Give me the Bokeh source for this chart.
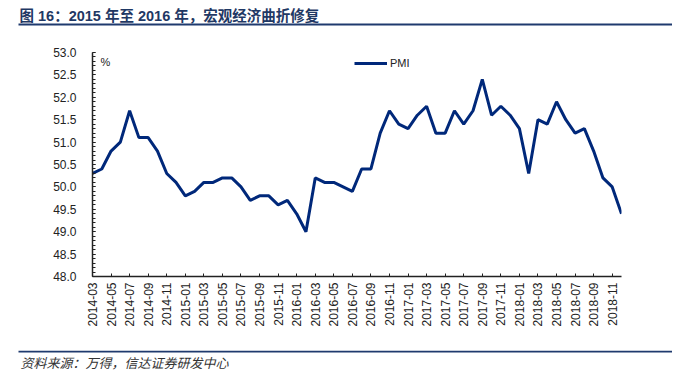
import math
import pandas as pd
from bokeh.plotting import figure
from bokeh.models import (ColumnDataSource, FixedTicker, SingleIntervalTicker, Range1d,
                          Legend, LegendItem, Label, NumeralTickFormatter)
from bokeh.core.properties import value
from bokeh.layouts import column
from bokeh.embed import file_html
from bokeh.resources import INLINE

title_text = "图 16：2015 年至 2016 年，宏观经济曲折修复"
source_text = "资料来源：万得，信达证券研发中心"
series_name = "PMI"
unit_text = "%"

months = [p.strftime("%Y-%m") for p in pd.period_range("2014-03", "2018-12", freq="M")]
pmi = [50.3, 50.4, 50.8, 51.0, 51.7, 51.1, 51.1, 50.8, 50.3, 50.1,
       49.8, 49.9, 50.1, 50.1, 50.2, 50.2, 50.0, 49.7, 49.8, 49.8, 49.6, 49.7,
       49.4, 49.0, 50.2, 50.1, 50.1, 50.0, 49.9, 50.4, 50.4, 51.2, 51.7, 51.4,
       51.3, 51.6, 51.8, 51.2, 51.2, 51.7, 51.4, 51.7, 52.4, 51.6, 51.8, 51.6,
       51.3, 50.3, 51.5, 51.4, 51.9, 51.5, 51.2, 51.3, 50.8, 50.2, 50.0, 49.4]
tick_labels = months[::2]

NAVY = "#00287A"
RULE = "#1F3A6E"
TXT = "#222222"
FONT = "Liberation Sans"
CJK = '"Liberation Sans", "Noto Sans CJK SC", sans-serif'
W = 672


def strip(h):
    s = figure(width=W, height=h, output_backend="svg", toolbar_location=None,
               x_range=Range1d(0, W), y_range=Range1d(h, 0),
               x_axis_location=None, y_axis_location=None, frame_align=False,
               min_border=0, min_border_left=0, min_border_right=0,
               min_border_top=0, min_border_bottom=0,
               outline_line_color=None, background_fill_color="white",
               border_fill_color="white")
    s.grid.visible = False
    return s


# title strip (layout decoration, pixel coordinates)
t = strip(26)
t.text(x=[19], y=[15], text=[title_text], text_font=value(CJK), text_font_size="14.5px",
       text_font_style="bold", text_color="#1F3864", text_baseline="middle", text_align="left")
t.segment(x0=[18], y0=[24], x1=[W], y1=[24], line_color=RULE, line_width=2)

# main chart
idx = list(range(len(months)))
src = ColumnDataSource(dict(x=idx, y=pmi, m=months))

p = figure(width=W, height=324, output_backend="svg", toolbar_location=None, frame_align=False,
           x_range=Range1d(0, len(months) - 1), y_range=Range1d(48, 53),
           min_border_left=92, min_border_right=W - 621, min_border_top=26, min_border_bottom=74,
           background_fill_color="white", border_fill_color="white", outline_line_color=None)
p.grid.grid_line_color = None

r = p.line("x", "y", source=src, line_color=NAVY, line_width=3)

xa = p.xaxis[0]
xa.ticker = FixedTicker(ticks=idx[::2])
xa.major_label_overrides = {i: lab for i, lab in zip(idx[::2], tick_labels)}
xa.major_label_orientation = math.pi / 2
xa.major_label_text_font = FONT
xa.major_label_text_font_size = "12px"
xa.major_label_text_color = TXT
xa.major_label_standoff = 6
xa.major_tick_in = 3
xa.major_tick_out = 0
xa.minor_tick_in = 0
xa.minor_tick_out = 0
xa.axis_line_color = "#222222"
xa.axis_line_width = 1.5
xa.major_tick_line_color = "#222222"

ya = p.yaxis[0]
ya.ticker = SingleIntervalTicker(interval=0.5, num_minor_ticks=5)
ya.formatter = NumeralTickFormatter(format="0.0")
ya.major_label_text_font = FONT
ya.major_label_text_font_size = "12px"
ya.major_label_text_color = TXT
ya.major_label_standoff = 16
ya.major_tick_in = 3
ya.major_tick_out = 0
ya.minor_tick_in = 3
ya.minor_tick_out = 0
ya.axis_line_color = "#222222"
ya.axis_line_width = 1.5
ya.major_tick_line_color = "#222222"
ya.minor_tick_line_color = "#222222"

p.add_layout(Label(x=0.85, y=52.66, text=unit_text, text_font=FONT, text_font_size="11px",
                   text_color=TXT, text_baseline="bottom"))

legend = Legend(items=[LegendItem(label=series_name, renderers=[r])],
                location=(262, 207), padding=0, margin=0, border_line_color=None,
                background_fill_alpha=0, glyph_width=33, glyph_height=12, label_height=12,
                label_standoff=3, label_text_font=FONT, label_text_font_size="11px",
                label_text_color=TXT)
p.add_layout(legend, "center")

# footer strip
f = strip(26)
f.segment(x0=[18], y0=[1], x1=[W], y1=[1], line_color=RULE, line_width=2)
f.text(x=[20], y=[12], text=[source_text], text_font=value('"Noto Sans CJK SC", sans-serif'),
       text_font_size="13px", text_font_style="italic", text_color="#333333",
       text_baseline="middle", text_align="left")

layout = column(t, p, f, spacing=0)
open("out.html", "w").write(file_html(layout, INLINE))
